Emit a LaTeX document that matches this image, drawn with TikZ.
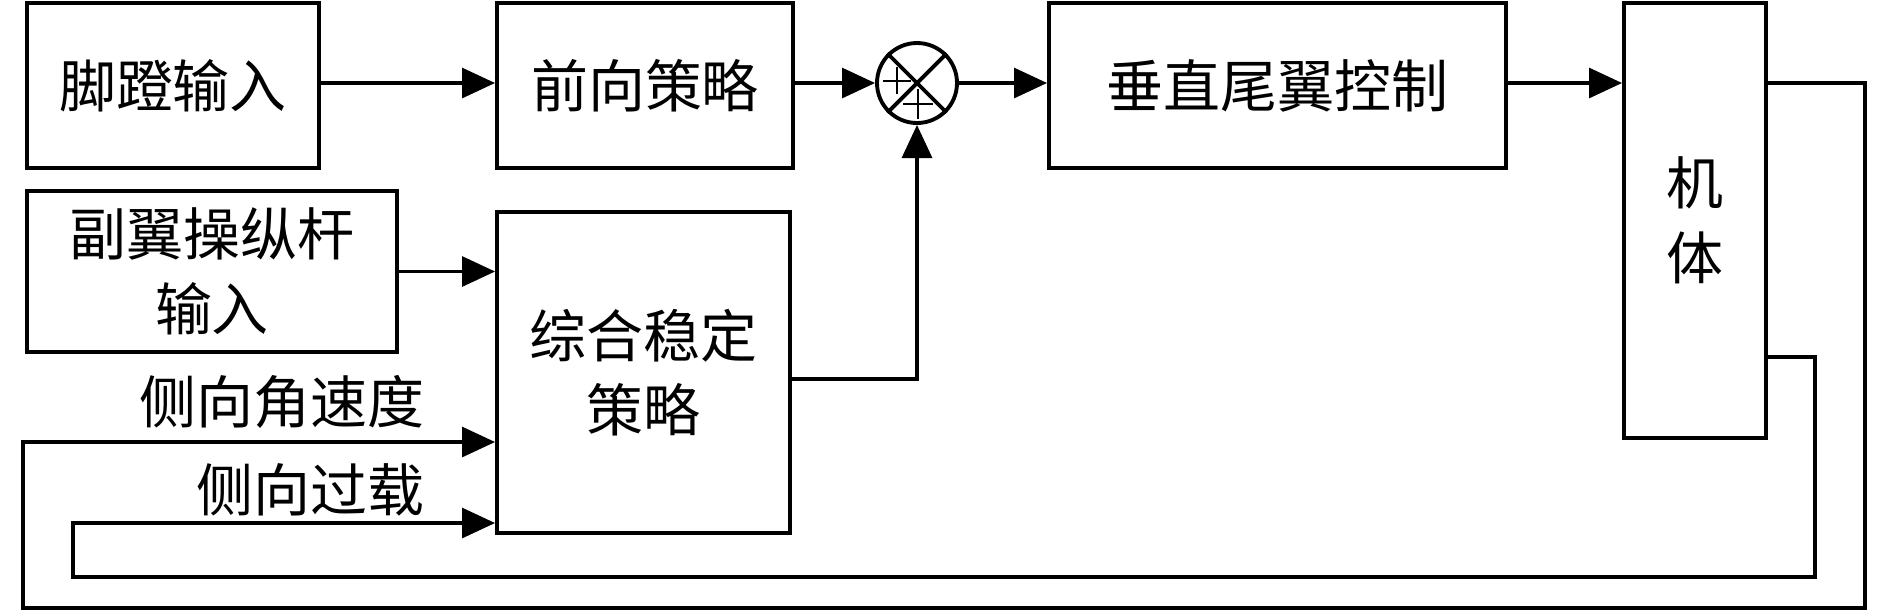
\documentclass[tikz,border=0pt]{standalone}
\usepackage{fontspec}
\newfontfamily\cjk{Noto Sans CJK SC}
\usetikzlibrary{arrows.meta,calc}
\begin{document}
\begin{tikzpicture}[x=0.01cm,y=-0.01cm,
  blk/.style={draw,line width=1.1pt,inner sep=0pt,align=center,font=\cjk\fontsize{16.2}{21.2}\selectfont},
  lbl/.style={inner sep=0pt,font=\cjk\fontsize{16.2}{21.2}\selectfont},
  arr/.style={line width=1pt,-{Triangle[length=9.4pt,width=8.5pt]}},
  ln/.style={line width=1pt}]
\useasboundingbox (0,0) rectangle (1890,611);
\node[blk,minimum width=292*0.01cm,minimum height=165*0.01cm] (in1) at (173,85.5) {脚蹬输入};
\node[blk,minimum width=296*0.01cm,minimum height=165*0.01cm] (fwd) at (645,85.5) {前向策略};
\node[draw,circle,line width=1.1pt,minimum size=80*0.01cm,inner sep=0pt] (sum) at (917,83) {};
\node[blk,minimum width=457*0.01cm,minimum height=165*0.01cm] (vt) at (1277.5,85.5) {垂直尾翼控制};
\node[blk,minimum width=142*0.01cm,minimum height=435*0.01cm] (body) at (1695,220.5) {机\\体};
\node[blk,minimum width=370*0.01cm,minimum height=161*0.01cm] (in2) at (212,271.5) {副翼操纵杆\\输入};
\node[blk,minimum width=293*0.01cm,minimum height=321*0.01cm] (stab) at (643.5,372.5) {综合稳定\\策略};
\node[lbl,anchor=east] (l1) at (425,402) {侧向角速度};
\node[lbl,anchor=east] (l2) at (425,490) {侧向过载};
% summing junction marks
\draw[line width=1.1pt] (sum.north west) -- (sum.south east) (sum.north east) -- (sum.south west);
\draw[line width=0.7pt] (883,81) -- (911,81) (897,67) -- (897,94);
\draw[line width=0.7pt] (903,104) -- (933,104) (918,89) -- (918,119);
% coordinates for the feedback paths
\coordinate (c1) at (1865,608);
\coordinate (c2) at (23,442);
\coordinate (b2) at (1766,357);
\coordinate (c3) at (1815,577);
\coordinate (c4) at (73,523);
% connectors
\draw[arr] (in1.east |- sum) -- (fwd.west |- sum);
\draw[arr] (fwd.east |- sum) -- (sum.west);
\draw[arr] (sum.east) -- (sum.east -| vt.west);
\draw[arr] (vt.east |- sum) -- (body.west |- sum);
\draw[arr] (in2.east) -- (in2.east -| stab.west);
\draw[arr] ([yshift=-1.8pt]stab.east) -| (sum.south);
\draw[arr] (body.east |- sum) -| (c1) -| (c2) -- (c2 -| stab.west);
\draw[arr] (b2) -| (c3) -| (c4) -- (c4 -| stab.west);
\end{tikzpicture}
\end{document}
